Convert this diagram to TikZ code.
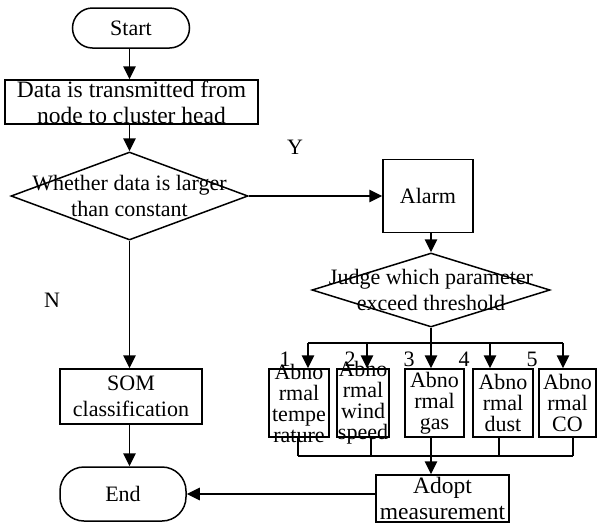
\documentclass[tikz,border=0pt]{standalone}
\usepackage{fontspec}
\setmainfont{Liberation Serif}
\usetikzlibrary{arrows.meta,shapes.geometric,positioning}

\begin{document}
\begin{tikzpicture}[
  x=1pt,y=-1pt,
  font=\fontsize{22}{26}\selectfont,
  line width=1.5pt,
  lbl/.style={align=center,inner sep=0pt},
  txt/.style={label={[lbl]center:{#1}}},
  bigtxt/.style={label={[lbl,font=\fontsize{23.5}{26}\selectfont]center:{#1}}},
  term/.style={draw,rounded corners=20pt,inner sep=0pt},
  proc/.style={draw,inner sep=0pt},
  dec/.style={draw,diamond,inner sep=0pt},
  small/.style={proc,minimum height=68pt,
    label={[lbl,font=\fontsize{22}{21}\selectfont]center:{#1}}},
  fwd/.style={-{Triangle[length=13pt,width=12.5pt]}},
  yn/.style={inner sep=0pt}]
\useasboundingbox (0,0) rectangle (597,523);
% main column
\node[term,minimum width=117pt,minimum height=40pt,txt=Start] (start) at (131,28) {};
\node[proc,minimum width=253pt,minimum height=44pt,
  bigtxt={Data is transmitted from\\node to cluster head}] (data) at (131.5,102) {};
\node[dec,minimum width=237pt,minimum height=88pt,
  txt={Whether data is larger\\than constant}] (judge) at (129.5,196) {};
\node[proc,minimum width=142pt,minimum height=55pt,
  txt={SOM\\classification}] (som) at (131,396.5) {};
\node[term,rounded corners=24pt,minimum width=126pt,minimum height=54pt,
  txt=End] (end) at (123,494) {};
% alarm branch
\node[proc,minimum width=90pt,minimum height=73pt,txt=Alarm] (alarm) at (428,196) {};
\node[dec,minimum width=238pt,minimum height=74pt,
  txt={Judge which parameter\\exceed threshold}] (param) at (431,290) {};
\node[small={Abno\\rmal\\tempe\\rature},minimum width=60pt] (temp) at (299,403) {};
\node[small={Abno\\rmal\\wind\\speed},minimum width=52pt] (wind) at (363,403) {};
\node[small={Abno\\rmal\\gas},minimum width=59pt] (gas) at (434.5,403) {};
\node[small={Abno\\rmal\\dust},minimum width=60pt] (dust) at (503,403) {};
\node[small={Abno\\rmal\\CO},minimum width=57pt] (co) at (567.5,403) {};
\node[proc,minimum width=133pt,minimum height=47pt,
  bigtxt={Adopt\\measurement}] (adopt) at (442.5,498.5) {};
\node[yn] (yes) at (295,147) {Y};
\node[yn] (no) at (52,300) {N};
\foreach \i/\x in {1/285,2/350,3/409,4/464,5/532}
  \node[yn] (num\i) at (\x,359) {\i};
% connectors
\draw[fwd] (start.south -| judge) -- (data.north -| judge);
\draw[fwd] (data.south -| judge) -- (judge.north);
\draw[fwd] (judge.east) -- (alarm.west);
\draw[fwd] (judge.south) -- (som.north -| judge);
\draw[fwd] (som.south -| judge) -- (end.north -| judge);
\draw[fwd] (alarm.south -| param) -- (param.north);
\foreach \n/\x in {temp/308,wind/367,gas/431,dust/490,co/563} {
  \coordinate (t\n) at (\x,343);
  \draw[fwd] (t\n) -- (t\n |- \n.north);
}
\draw (ttemp) -- (tco);
\draw (param.south) -- (tgas);
\foreach \n/\x in {temp/298,wind/371,gas/431,dust/499,co/573} {
  \coordinate (b\n) at (\x,456);
  \draw (b\n |- \n.south) -- (b\n);
}
\draw (btemp) -- (bco);
\draw[fwd] (bgas) -- (bgas |- adopt.north);
\draw[fwd] (end.east -| adopt.west) -- (end.east);
\end{tikzpicture}
\end{document}
